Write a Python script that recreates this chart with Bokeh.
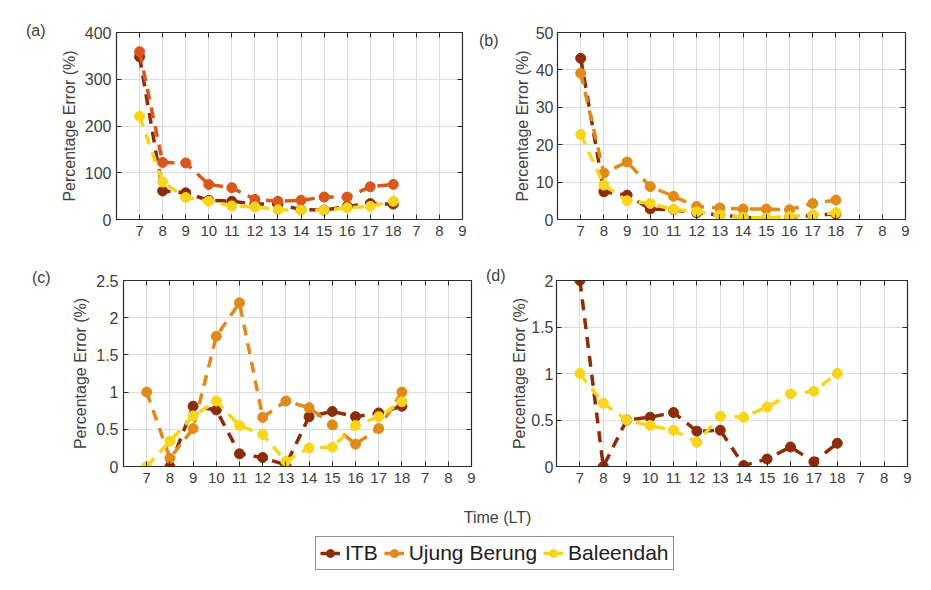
import math
from bokeh.plotting import figure
from bokeh.layouts import column, row
from bokeh.models import (Range1d, FixedTicker, LinearAxis, Label, Legend, LegendItem,
                          NumeralTickFormatter, ColumnDataSource, Div)
from bokeh.embed import file_html
from bokeh.resources import INLINE

NaN = float("nan")

# ---------------- data ----------------
hours = [7, 8, 9, 10, 11, 12, 13, 14, 15, 16, 17, 18]
x_tick_labels = ["7", "8", "9", "10", "11", "12", "13", "14", "15", "16", "17", "18", "7", "8", "9"]
series_names = ["ITB", "Ujung Berung", "Baleendah"]
panel_tags = ["(a)", "(b)", "(c)", "(d)"]

a_itb = [348, 61, 57, 41, 39, 33, 33, 21, 20, 28, 34, 33]
a_ujung = [359, 122, 121, 75, 68, 43, 39, 41, 48, 48, 70, 75]
a_bal = [221, 80, 47, 39, 29, 27, 21, 20, 20, 25, 28, 39]

b_itb = [43.1, 7.4, 6.5, 2.8, 2.6, 1.8, 1.2, 0.6, 0.2, 0.6, 1.1, 1.5]
b_ujung = [39.1, 12.4, 15.4, 8.8, 6.2, 3.5, 3.1, 2.8, 2.8, 2.6, 4.3, 5.2]
b_bal = [22.7, 9.2, 5.0, 4.3, 2.7, 2.1, 1.2, 0.6, 0.4, 0.8, 1.2, 1.8]

c_itb = [NaN, 0.0, 0.81, 0.76, 0.17, 0.12, 0.02, 0.67, 0.74, 0.67, 0.72, 0.81]
c_ujung = [1.0, 0.11, 0.51, 1.75, 2.2, 0.66, 0.88, 0.79, 0.56, 0.30, 0.51, 1.0]
c_bal = [0.0, 0.34, 0.68, 0.88, 0.55, 0.43, 0.07, 0.25, 0.26, 0.55, 0.67, 0.87]

d_itb = [2.0, 0.0, 0.50, 0.53, 0.58, 0.38, 0.39, 0.01, 0.08, 0.21, 0.05, 0.25]
d_bal = [1.0, 0.68, 0.50, 0.44, 0.39, 0.26, 0.54, 0.53, 0.64, 0.78, 0.81, 1.0]

# ---------------- style ----------------
C_ITB = "#8C2C08"
C_UJ = "#E08A1A"
C_UJ_A = "#DA561C"
C_BAL = "#F8D51A"
TXT = "#404040"
AX = "#2b2b2b"
FONT = "Liberation Sans"

x_pos = [i + 1 for i in range(len(hours))]  # tick index positions of the hours
tick_pos = list(range(1, len(x_tick_labels) + 1))


def tag_div(width, height, tag, left, top):
    html = ('<div style="padding:%dpx 0 0 %dpx;font-family:\'Liberation Sans\',Arial,sans-serif;'
            'font-size:16px;line-height:16px;color:%s;white-space:nowrap;">%s</div>'
            % (top, left, TXT, tag))
    return Div(text=html, width=width, height=height, margin=0)


def make_panel(width, height, bl, br, bt, bb, ymax, ystep, series, lab_so=5, ax_so=4):
    p = figure(width=width, height=height, output_backend="svg", toolbar_location=None,
               x_range=Range1d(0, len(x_tick_labels)), y_range=Range1d(0, ymax),
               min_border_left=bl, min_border_right=br, min_border_top=bt,
               min_border_bottom=bb)
    p.background_fill_color = "white"
    p.border_fill_color = "white"
    p.outline_line_color = AX
    p.outline_line_width = 1.2
    yt = [round(i * ystep, 6) for i in range(int(round(ymax / ystep)) + 1)]
    p.xaxis.ticker = FixedTicker(ticks=tick_pos)
    p.xaxis.major_label_overrides = {t: l for t, l in zip(tick_pos, x_tick_labels)}
    p.yaxis.ticker = FixedTicker(ticks=yt)
    p.yaxis.formatter = NumeralTickFormatter(format="0.[0]")
    for ax in (p.xaxis[0], p.yaxis[0]):
        ax.axis_line_color = AX
        ax.major_tick_in = 5
        ax.major_tick_out = 0
        ax.minor_tick_line_color = None
        ax.major_tick_line_color = AX
        ax.major_label_text_color = TXT
        ax.major_label_text_font = FONT
    p.xaxis.major_label_text_font_size = "15px"
    p.xaxis.major_label_standoff = 6
    p.yaxis.major_label_text_font_size = "16px"
    p.yaxis.major_label_standoff = lab_so
    p.yaxis.axis_label = "Percentage Error (%)"
    p.yaxis.axis_label_text_font = FONT
    p.yaxis.axis_label_text_font_size = "16px"
    p.yaxis.axis_label_text_font_style = "normal"
    p.yaxis.axis_label_text_color = TXT
    p.yaxis.axis_label_standoff = ax_so
    # mirrored ticks on top and right (no labels)
    top = LinearAxis(ticker=FixedTicker(ticks=tick_pos),
                     major_label_overrides={t: "" for t in tick_pos},
                     major_tick_in=5, major_tick_out=0, minor_tick_line_color=None,
                     axis_line_color=AX, major_tick_line_color=AX, major_label_standoff=0)
    right = LinearAxis(ticker=FixedTicker(ticks=yt),
                       major_label_overrides={t: "" for t in yt},
                       major_tick_in=5, major_tick_out=0, minor_tick_line_color=None,
                       axis_line_color=AX, major_tick_line_color=AX, major_label_standoff=0)
    p.add_layout(top, "above")
    p.add_layout(right, "right")
    p.xgrid.ticker = FixedTicker(ticks=tick_pos)
    p.ygrid.ticker = FixedTicker(ticks=yt)
    p.grid.grid_line_color = "#dcdcdc"
    p.grid.grid_line_width = 1
    for vals, col in series:
        src = ColumnDataSource(dict(x=x_pos, y=vals))
        p.line("x", "y", source=src, line_color=col, line_width=3.5, line_dash="11 8")
        p.scatter("x", "y", source=src, size=10, fill_color=col, line_color=col)
    return p


H = 250
ta = tag_div(50, H, panel_tags[0], 26, 23)
pa = make_panel(425, H, 66, 13, 32, 31, 400, 100,
                [(a_itb, C_ITB), (a_ujung, C_UJ_A), (a_bal, C_BAL)])
tb = tag_div(35, H, panel_tags[1], 4, 33)
pb = make_panel(421, H, 47, 26, 31, 31, 50, 10,
                [(b_itb, C_ITB), (b_ujung, C_UJ), (b_bal, C_BAL)], lab_so=4, ax_so=2)
tc = tag_div(55, H, panel_tags[2], 32, 20)
pc = make_panel(425, H, 68, 9, 27, 34, 2.5, 0.5,
                [(c_itb, C_ITB), (c_ujung, C_UJ), (c_bal, C_BAL)])
td = tag_div(26, H, panel_tags[3], 6, 18)
pd = make_panel(425, H, 50, 24, 30, 30, 2, 0.5,
                [(d_itb, C_ITB), (d_bal, C_BAL)], lab_so=3, ax_so=0)

# ---------------- bottom strip: x label + legend ----------------
pl = figure(width=931, height=90, output_backend="svg", toolbar_location=None,
            x_range=Range1d(0, 1), y_range=Range1d(0, 1), min_border=0)
pl.axis.visible = False
pl.grid.visible = False
pl.outline_line_color = None
pl.add_layout(Label(x=497, y=73, x_units="screen", y_units="screen", text="Time (LT)",
                    text_align="center", text_baseline="middle", text_font=FONT,
                    text_font_size="16px", text_color=TXT))
items = []
for name, col in zip(series_names, [C_ITB, C_UJ, C_BAL]):
    src = ColumnDataSource(dict(x=[NaN], y=[NaN]))
    r1 = pl.line("x", "y", source=src, line_color=col, line_width=3.5)
    r2 = pl.scatter("x", "y", source=src, size=10, fill_color=col, line_color=col)
    items.append(LegendItem(label=name, renderers=[r1, r2]))
leg = Legend(items=items, orientation="horizontal", location=(315, 20),
             label_text_font=FONT, label_text_font_size="21px", label_text_color="#202020",
             glyph_width=20, glyph_height=20, label_standoff=5, spacing=6, padding=4,
             margin=0, border_line_color="#202020", border_line_width=1.2,
             background_fill_color="white", label_height=21)
pl.add_layout(leg, "center")

layout = column(row(ta, pa, tb, pb), row(tc, pc, td, pd), pl)
open("out.html", "w").write(file_html(layout, INLINE))
